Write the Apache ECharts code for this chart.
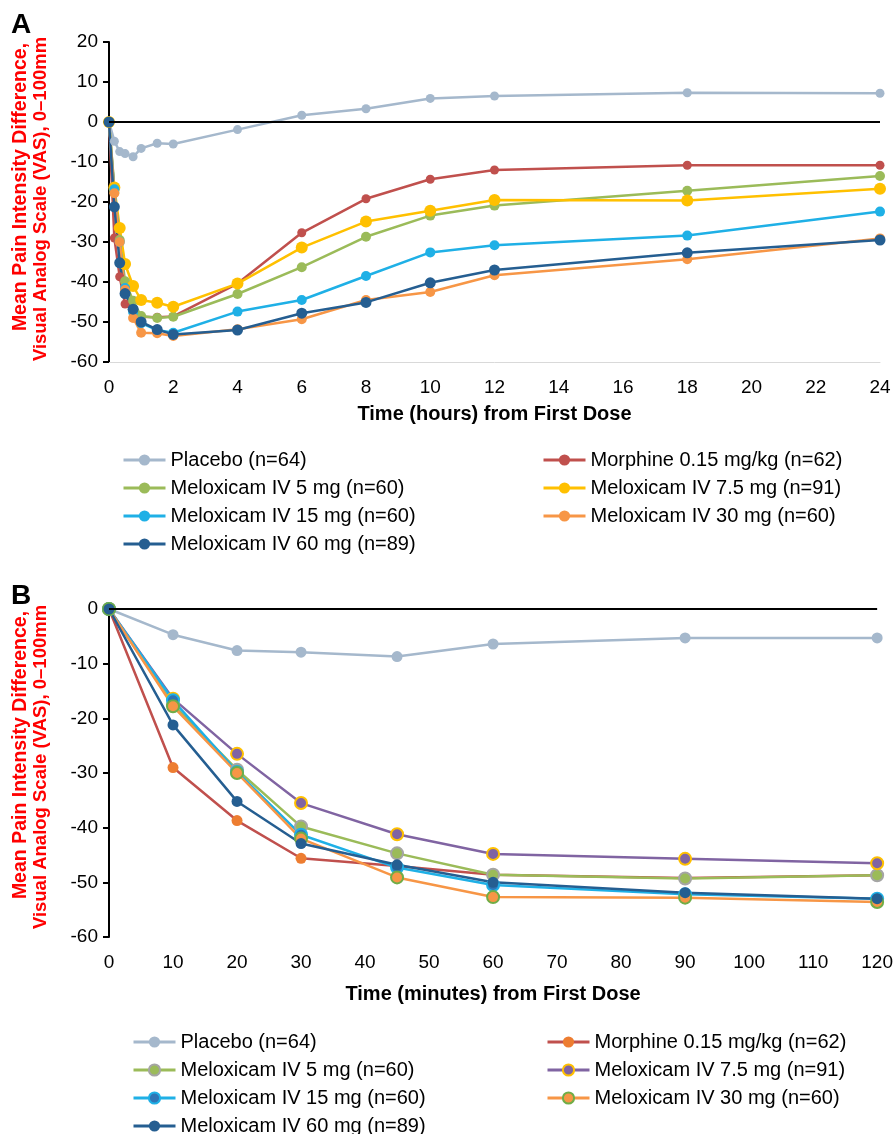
<!DOCTYPE html>
<html>
<head>
<meta charset="utf-8">
<script src="https://cdn.jsdelivr.net/npm/echarts@6/dist/echarts.min.js"></script>
<style>
html,body{margin:0;padding:0;background:#fff;}
#chart{width:896px;height:1134px;}
</style>
</head>
<body>
<div id="chart"></div>
<script>
// ---------- Data ----------
const seriesNames = [
  'Placebo (n=64)',
  'Morphine 0.15 mg/kg (n=62)',
  'Meloxicam IV 5 mg (n=60)',
  'Meloxicam IV 7.5 mg (n=91)',
  'Meloxicam IV 15 mg (n=60)',
  'Meloxicam IV 30 mg (n=60)',
  'Meloxicam IV 60 mg (n=89)'
];

// Panel A: time in hours
const hoursA = [0, 0.167, 0.333, 0.5, 0.75, 1, 1.5, 2, 4, 6, 8, 10, 12, 18, 24];
const placeboA   = [0, -4.8, -7.4, -7.9, -8.7, -6.6, -5.3, -5.5, -1.9, 1.7, 3.3, 5.9, 6.5, 7.3, 7.2];
const morphineA  = [0, -29.0, -38.7, -45.5, -47.0, -48.7, -48.8, -48.6, -40.4, -27.7, -19.2, -14.3, -12.0, -10.8, -10.8];
const melox5A    = [0, -17.5, -29.5, -39.8, -44.7, -48.5, -49.0, -48.7, -43.0, -36.3, -28.7, -23.4, -20.9, -17.2, -13.5];
const melox7_5A  = [0, -16.4, -26.5, -35.5, -41.0, -44.5, -45.2, -46.2, -40.4, -31.4, -24.9, -22.2, -19.5, -19.6, -16.7];
const melox15A   = [0, -16.8, -30.0, -41.5, -47.5, -50.3, -52.0, -52.7, -47.4, -44.5, -38.5, -32.6, -30.8, -28.4, -22.4];
const melox30A   = [0, -17.8, -30.0, -42.0, -49.0, -52.7, -52.8, -53.5, -51.8, -49.3, -44.5, -42.5, -38.3, -34.3, -29.1];
const melox60A   = [0, -21.2, -35.2, -42.9, -46.8, -50.0, -51.9, -53.1, -52.0, -47.8, -45.1, -40.2, -37.0, -32.7, -29.5];

// Panel B: time in minutes
const minutesB = [0, 10, 20, 30, 45, 60, 90, 120];
const placeboB   = [0, -4.7, -7.6, -7.9, -8.7, -6.4, -5.3, -5.3];
const morphineB  = [0, -29.0, -38.7, -45.6, -47.0, -48.6, -49.2, -48.7];
const melox5B    = [0, -17.5, -29.4, -39.8, -44.7, -48.6, -49.3, -48.7];
const melox7_5B  = [0, -16.4, -26.5, -35.5, -41.2, -44.8, -45.7, -46.5];
const melox15B   = [0, -16.7, -29.8, -41.3, -47.3, -50.5, -52.2, -53.0];
const melox30B   = [0, -17.8, -30.0, -42.0, -49.1, -52.7, -52.8, -53.6];
const melox60B   = [0, -21.2, -35.2, -42.9, -46.8, -50.0, -51.9, -53.0];

const xTitleA = 'Time (hours) from First Dose';
const xTitleB = 'Time (minutes) from First Dose';
const yTitle1 = 'Mean Pain Intensity Difference,';
const yTitle2 = 'Visual Analog Scale (VAS), 0\u2013100mm';

// ---------- Styles ----------
const FONT = '"Liberation Sans", Arial, sans-serif';
const colorsA = ['#a5b8cc', '#c0504d', '#9bbb59', '#ffc000', '#1fb0e6', '#f79646', '#255e91'];
const symA    = [9, 9, 10, 12, 10, 10, 11];
const lineB   = ['#a5b8cc', '#c0504d', '#9bbb59', '#8064a2', '#1fb0e6', '#f79646', '#255e91'];
const fillB   = ['#a5b8cc', '#ed7d31', '#9bbb59', '#8064a2', '#2e75b6', '#f79646', '#255e91'];
const bordB   = [null, null, '#a5a5a5', '#ffc000', '#1fb0e6', '#70ad47', null];

const dataA = [placeboA, morphineA, melox5A, melox7_5A, melox15A, melox30A, melox60A];
const dataB = [placeboB, morphineB, melox5B, melox7_5B, melox15B, melox30B, melox60B];

const zeroLine = {
  silent: true, symbol: 'none', label: {show: false},
  lineStyle: {color: '#000', width: 2, type: 'solid'},
  data: [{yAxis: 0}]
};

const series = [];
seriesNames.forEach((nm, k) => {
  const s = {
    name: 'A|' + nm, type: 'line', xAxisIndex: 0, yAxisIndex: 0,
    data: hoursA.map((t, i) => [t, dataA[k][i]]),
    symbol: 'circle', symbolSize: symA[k],
    lineStyle: {color: colorsA[k], width: 2.5},
    itemStyle: {color: colorsA[k]},
    emphasis: {disabled: true}, animation: false
  };
  if (k === 0) s.markLine = zeroLine;
  series.push(s);
});
seriesNames.forEach((nm, k) => {
  const s = {
    name: 'B|' + nm, type: 'line', xAxisIndex: 1, yAxisIndex: 1,
    data: minutesB.map((t, i) => [t, dataB[k][i]]),
    symbol: 'circle', symbolSize: bordB[k] ? 12 : 11,
    lineStyle: {color: lineB[k], width: 2.5},
    itemStyle: bordB[k] ? {color: fillB[k], borderColor: bordB[k], borderWidth: 2} : {color: fillB[k]},
    emphasis: {disabled: true}, animation: false
  };
  if (k === 0) s.markLine = zeroLine;
  series.push(s);
});

const axisLabel = {fontSize: 19, fontFamily: FONT, color: '#000'};
const legendCommon = {
  orient: 'vertical', itemWidth: 42, itemHeight: 14, itemGap: 8, padding: 0,
  height: 130,
  lineStyle: {width: 3},
  textStyle: {fontSize: 20, fontFamily: FONT, color: '#000', lineHeight: 20},
  formatter: n => n.slice(2), selectedMode: false
};
function leg(prefix, idxs, left, top) {
  return Object.assign({}, legendCommon, {
    left: left, top: top, data: idxs.map(i => prefix + seriesNames[i])
  });
}

function yTitle(text, cx, cy, fs) {
  return {
    type: 'text', x: cx, y: cy, rotation: Math.PI / 2,
    style: {text: text, fill: '#ff0000', font: 'bold ' + fs + 'px ' + FONT, align: 'center', verticalAlign: 'middle'}
  };
}

const option = {
  backgroundColor: '#fff',
  animation: false,
  grid: [
    {left: 109, right: 16, top: 42, height: 320},
    {left: 109, right: 16, top: 609, height: 328}
  ],
  xAxis: [
    {gridIndex: 0, type: 'value', min: 0, max: 24, interval: 2,
     axisLine: {onZero: false, lineStyle: {color: '#d9d9d9', width: 1}},
     axisTick: {show: false}, splitLine: {show: false},
     axisLabel: Object.assign({margin: 16}, axisLabel),
     name: xTitleA, nameLocation: 'middle', nameGap: 42,
     nameTextStyle: {fontSize: 20, fontWeight: 'bold', fontFamily: FONT, color: '#000'}},
    {gridIndex: 1, type: 'value', min: 0, max: 120, interval: 10,
     axisLine: {show: false, onZero: false},
     axisTick: {show: false}, splitLine: {show: false},
     axisLabel: Object.assign({margin: 16}, axisLabel),
     name: xTitleB, nameLocation: 'middle', nameGap: 47,
     nameTextStyle: {fontSize: 20, fontWeight: 'bold', fontFamily: FONT, color: '#000'}}
  ],
  yAxis: [
    {gridIndex: 0, type: 'value', min: -60, max: 20, interval: 10,
     axisLine: {show: true, lineStyle: {color: '#000', width: 2}},
     axisTick: {show: true, inside: false, length: 6, lineStyle: {color: '#000', width: 2}},
     splitLine: {show: false},
     axisLabel: Object.assign({margin: 11}, axisLabel)},
    {gridIndex: 1, type: 'value', min: -60, max: 0, interval: 10,
     axisLine: {show: true, lineStyle: {color: '#000', width: 2}},
     axisTick: {show: true, inside: false, length: 6, lineStyle: {color: '#000', width: 2}},
     splitLine: {show: false},
     axisLabel: Object.assign({margin: 11}, axisLabel)}
  ],
  legend: [
    leg('A|', [0, 2, 4, 6], 122, 450),
    leg('A|', [1, 3, 5], 542, 450),
    leg('B|', [0, 2, 4, 6], 132, 1032),
    leg('B|', [1, 3, 5], 546, 1032)
  ],
  graphic: [
    {type: 'text', x: 11, y: 25, style: {text: 'A', fill: '#000', font: 'bold 28px ' + FONT, verticalAlign: 'middle'}},
    {type: 'text', x: 11, y: 596, style: {text: 'B', fill: '#000', font: 'bold 28px ' + FONT, verticalAlign: 'middle'}},
    yTitle(yTitle1, 21, 187, 19.5),
    yTitle(yTitle2, 41, 199, 18.5),
    yTitle(yTitle1, 21, 755, 19.5),
    yTitle(yTitle2, 41, 767, 18.5)
  ],
  series: series
};

const chart = echarts.init(document.getElementById('chart'), null, {renderer: 'canvas'});
chart.setOption(option);
</script>
</body>
</html>
